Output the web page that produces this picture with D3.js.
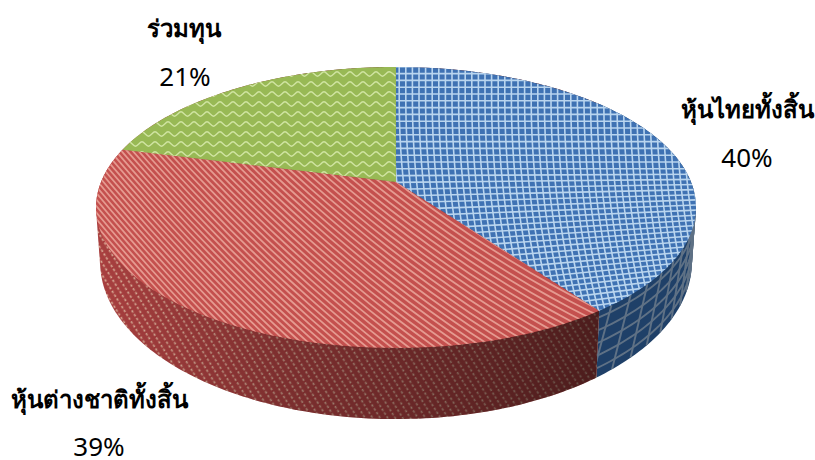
<!DOCTYPE html>
<html>
<head>
<meta charset="utf-8">
<script src="https://cdn.jsdelivr.net/npm/d3@7/dist/d3.min.js"></script>
<style>
body { margin: 0; background: #fff; }
svg { display: block; }
text { font-family: "Noto Sans", "Open Sans", sans-serif; fill: #000; }
</style>
</head>
<body>
<div id="chart"></div>
<script>
const categories = ["หุ้นไทยทั้งสิ้น", "หุ้นต่างชาติทั้งสิ้น", "ร่วมทุน"];
const values = [40, 39, 21];
const topColours = ["#3f72b3", "#c4504e", "#98b955"];
const sideColours = ["#1f4068", "#a83f3f"];

const width = 815, height = 460;
const cx = 396, persp = 0.181;
// the upper and lower rim of the disc as seen in perspective
const upperRim = { y0: 182, rx: 295, ry: 135.9 };
const lowerRim = { y0: 233.6, rx: 291, ry: 151.9 };

const svg = d3.select("#chart").append("svg")
	.attr("width", width)
	.attr("height", height);

// angle 0 is the back of the pie
function rim(a, r) {
	const w = 1 + persp * Math.cos(a);
	return [cx + (r.rx * Math.sin(a)) / w, r.y0 - (r.ry * Math.cos(a)) / w];
}

function wall(a, t) {
	const p = rim(a, upperRim), q = rim(a, lowerRim);
	return [p[0] + (q[0] - p[0]) * t, p[1] + (q[1] - p[1]) * t];
}

const arcs = d3.pie().sort(null)(values);
const line = d3.line();
const curve = d3.line().curve(d3.curveCardinal);

function steps(a0, a1) {
	return d3.range(0, 61).map((i) => a0 + ((a1 - a0) * i) / 60);
}

const defs = svg.append("defs");

// red wall texture
const stripeSide = defs.append("pattern").attr("id", "side1")
	.attr("patternUnits", "userSpaceOnUse").attr("width", 9).attr("height", 6.4)
	.attr("patternTransform", "rotate(58)");
stripeSide.append("rect").attr("width", 9).attr("height", 6.4).attr("fill", sideColours[1]);
stripeSide.append("path").attr("d", "M0,1.5H9")
	.attr("stroke", "#dcae98").attr("stroke-width", 1.7).attr("stroke-dasharray", "2.5 2");

// red wall gets darker towards the blue slice
const shade = defs.append("linearGradient").attr("id", "shade")
	.attr("gradientUnits", "userSpaceOnUse")
	.attr("x1", 100).attr("x2", 600).attr("y1", 0).attr("y2", 0);
shade.append("stop").attr("offset", 0).attr("stop-color", "#000").attr("stop-opacity", 0);
shade.append("stop").attr("offset", 0.35).attr("stop-color", "#000").attr("stop-opacity", 0.25);
shade.append("stop").attr("offset", 1).attr("stop-color", "#000").attr("stop-opacity", 0.55);

// side wall is the outline of both rims, split at the blue/red corner
const wallEnd = arcs[0].endAngle;
const all = d3.range(0, 2 * Math.PI, 0.02);
const hull = d3.polygonHull(all.map((a) => rim(a, upperRim)).concat(all.map((a) => rim(a, lowerRim))));
const cornerTop = wall(wallEnd, 0), cornerBase = wall(wallEnd, 1);
const splits = [
	[[width, 0], [cornerTop[0], 0], cornerTop, cornerBase, [cornerBase[0], height], [width, height]],
	[[0, 0], [cornerTop[0], 0], cornerTop, cornerBase, [cornerBase[0], height], [0, height]]
];
splits.forEach((s, i) => {
	defs.append("clipPath").attr("id", `wall${i}`).append("path").attr("d", line(s) + "Z");
	const g = svg.append("g").attr("clip-path", `url(#wall${i})`);
	const path = line(hull) + "Z";
	if (i === 1) {
		g.append("path").attr("d", path).attr("fill", "url(#side1)");
		g.append("path").attr("d", path).attr("fill", "url(#shade)");
	} else {
		g.append("path").attr("d", path).attr("fill", sideColours[i]);
	}
});

// blue wall grid follows the rim
defs.append("clipPath").attr("id", "hull").append("path").attr("d", line(hull) + "Z");
const gridSide = svg.append("g").attr("clip-path", "url(#hull)")
	.append("g").attr("clip-path", "url(#wall0)").attr("fill", "none")
	.attr("stroke", "#5f7185").attr("stroke-width", 1.9);
d3.range(0.1, 1, 0.19).forEach((t) => {
	gridSide.append("path")
		.attr("d", line(steps(Math.PI / 2.2, wallEnd).map((a) => wall(a, t))));
});
d3.range(wallEnd - 0.05, Math.PI / 2.2, -0.085).forEach((a) => {
	gridSide.append("path")
		.attr("d", line([wall(a, 0), wall(a + 0.07, 1)]));
});

// top face, one clip per slice
const slices = arcs.map((d) => {
	const pts = [[cx, upperRim.y0]].concat(steps(d.startAngle, d.endAngle).map((a) => rim(a, upperRim)));
	return line(pts) + "Z";
});
slices.forEach((p, i) => {
	defs.append("clipPath").attr("id", `clip${i}`).append("path").attr("d", p);
	svg.append("path").attr("d", p).attr("fill", topColours[i]);
});

// blue grid, bends a little towards the front
const gridTop = svg.append("g").attr("clip-path", "url(#clip0)").attr("fill", "none")
	.attr("stroke", "#b9d5ef").attr("stroke-width", 1.6);
d3.range(60, 370, 6.8).forEach((v) => {
	const s = 0.25 * Math.max(0, v - 170);
	gridTop.append("path").attr("d", line([[396, v], [700, v - s]]));
});
d3.range(320, 700, 6.6).forEach((u) => {
	const pts = d3.range(60, 345, 15).map((y) => {
		const k = Math.max(0, y - 100);
		return [u + (0.25 * k * k) / 400, y];
	});
	gridTop.append("path").attr("d", line(pts));
});

// red stripes, flatter towards the right
const stripes = svg.append("g").attr("clip-path", "url(#clip1)").attr("fill", "none")
	.attr("stroke", "#e59a90").attr("stroke-width", 1.8);
d3.range(-250, 420, 6.5).forEach((p) => {
	const pts = d3.range(90, 620, 20).map((x) => {
		const dx = x - 90;
		return [x, p + 1.2 * dx - (0.7 * dx * dx) / 1000];
	});
	stripes.append("path").attr("d", line(pts));
});

// green waves
const waves = svg.append("g").attr("clip-path", "url(#clip2)").attr("fill", "none")
	.attr("stroke", "#d0e4a2").attr("stroke-width", 1.4);
d3.range(64, 190, 10).forEach((v) => {
	const pts = d3.range(116, 400, 6.5).map((x, i) => [x, v + (i % 2 ? 2.2 : -2.2)]);
	waves.append("path").attr("d", curve(pts));
});

// labels
const labelPos = [[747, 118], [99, 408], [184, 37]];
const valuePos = [[747, 167], [99, 456], [185, 86]];
categories.forEach((c, i) => {
	svg.append("text").attr("x", labelPos[i][0]).attr("y", labelPos[i][1])
		.attr("text-anchor", "middle").attr("font-size", 24).attr("font-weight", 600).text(c);
	svg.append("text").attr("x", valuePos[i][0]).attr("y", valuePos[i][1])
		.attr("text-anchor", "middle").attr("font-size", 26).text(values[i] + "%");
});
</script>
</body>
</html>
